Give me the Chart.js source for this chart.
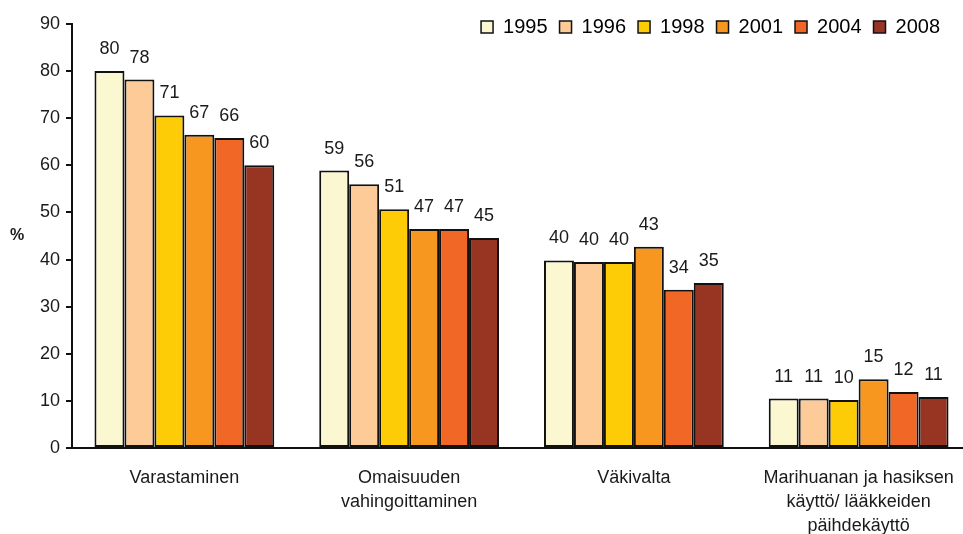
<!DOCTYPE html>
<html>
<head>
<meta charset="utf-8">
<script src="https://cdn.jsdelivr.net/npm/chart.js@4/dist/chart.umd.min.js"></script>
<style>
  html, body { margin: 0; padding: 0; background: #fff; overflow: hidden; }
  #wrap { width: 972px; height: 534px; }
</style>
</head>
<body>
<div id="wrap"><canvas id="chart"></canvas></div>
<script>
// Categories (multi-line labels)
const categories = [
  ['Varastaminen'],
  ['Omaisuuden', 'vahingoittaminen'],
  ['Väkivalta'],
  ['Marihuanan ja hasiksen', 'käyttö/ lääkkeiden', 'päihdekäyttö']
];

// Survey years
const years = ['1995', '1996', '1998', '2001', '2004', '2008'];

// Values per year, one per category (%)
const v1995 = [80.0, 58.9, 39.8, 10.5];
const v1996 = [78.2, 56.0, 39.5, 10.5];
const v1998 = [70.6, 50.7, 39.5, 10.2];
const v2001 = [66.5, 46.5, 42.7, 14.6];
const v2004 = [65.8, 46.5, 33.6, 11.9];
const v2008 = [60.0, 44.6, 35.0, 10.8];

const yTicks = [0, 10, 20, 30, 40, 50, 60, 70, 80, 90];

const colors = ['#FBF7D0', '#FDCB98', '#FECC07', '#F7971F', '#F16826', '#983422'];
const series = [v1995, v1996, v1998, v2001, v2004, v2008];

const FONT = 'Liberation Sans, Arial, sans-serif';

// Value labels above each bar
const valueLabels = {
  id: 'valueLabels',
  afterDatasetsDraw(chart) {
    const ctx = chart.ctx;
    ctx.save();
    ctx.font = '18px ' + FONT;
    ctx.fillStyle = '#1a1a1a';
    ctx.textAlign = 'center';
    ctx.textBaseline = 'alphabetic';
    chart.data.datasets.forEach((ds, i) => {
      chart.getDatasetMeta(i).data.forEach((bar, j) => {
        ctx.fillText(String(Math.round(ds.data[j])), bar.x, bar.y - 17);
      });
    });
    ctx.restore();
  }
};

// "%" axis caption
const percentLabel = {
  id: 'percentLabel',
  afterDraw(chart) {
    const ctx = chart.ctx;
    const y = chart.scales.y;
    ctx.save();
    ctx.font = 'bold 16px ' + FONT;
    ctx.fillStyle = '#1a1a1a';
    ctx.textAlign = 'center';
    ctx.textBaseline = 'middle';
    ctx.fillText('%', 17, (y.top + y.bottom) / 2);
    ctx.restore();
  }
};

// let the legend overhang its slot a little and end short of the right edge
const legendBox = {
  id: 'legendBox',
  afterLayout(chart) {
    const l = chart.legend;
    l.right = 952;
    l.width = l.right - l.left;
    l.bottom = l.top + 40;
    l.height = 40;
  }
};

new Chart(document.getElementById('chart'), {
  type: 'bar',
  data: {
    labels: categories,
    datasets: years.map((yr, i) => ({
      label: yr,
      data: series[i],
      backgroundColor: colors[i],
      borderColor: '#111',
      borderWidth: 2,
      borderSkipped: false,
      categoryPercentage: 0.8,
      barPercentage: 1.0
    }))
  },
  options: {
    responsive: true,
    maintainAspectRatio: false,
    animation: false,
    layout: { padding: { top: 5, right: 1, left: 0, bottom: 0 } },
    plugins: {
      tooltip: { enabled: false },
      legend: {
        position: 'top',
        align: 'end',
        maxHeight: 19,
        labels: {
          boxWidth: 12,
          boxHeight: 12,
          padding: 12,
          color: '#1a1a1a',
          font: { family: FONT, size: 20 },
          generateLabels(chart) {
            return chart.data.datasets.map((ds, i) => ({
              text: ds.label,
              fillStyle: ds.backgroundColor,
              strokeStyle: '#111',
              lineWidth: 1.5,
              datasetIndex: i
            }));
          }
        }
      }
    },
    scales: {
      x: {
        grid: { display: false },
        border: { display: true, color: '#111', width: 2 },
        ticks: {
          color: '#1a1a1a',
          padding: 10,
          maxRotation: 0,
          autoSkip: false,
          font: { family: FONT, size: 18, lineHeight: 1.33 }
        },
        afterFit(scale) { scale.height = 86; }
      },
      y: {
        min: 0,
        max: 90,
        afterBuildTicks(scale) { scale.ticks = yTicks.map(v => ({ value: v })); },
        grid: { drawOnChartArea: false, tickLength: 6, color: '#111', lineWidth: 2 },
        border: { display: true, color: '#111', width: 2 },
        ticks: {
          color: '#1a1a1a',
          padding: 6,
          font: { family: FONT, size: 18 }
        },
        afterFit(scale) { scale.width = 72; }
      }
    }
  },
  plugins: [valueLabels, percentLabel, legendBox]
});
</script>
</body>
</html>
